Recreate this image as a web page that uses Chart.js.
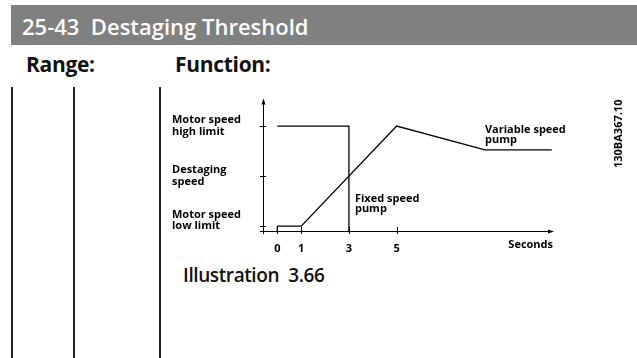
<!DOCTYPE html>
<html>
<head>
<meta charset="utf-8">
<title>25-43 Destaging Threshold</title>
<script src="https://cdn.jsdelivr.net/npm/chart.js@4.4.0/dist/chart.umd.min.js"></script>
<style>
    body { margin: 0; width: 637px; height: 358px; background: #fff; position: relative; overflow: hidden; font-family: 'Open Sans', sans-serif; }
    .bar { position: absolute; left: 11px; top: 5px; width: 626px; height: 40px; background: #808080; }
    .title { position: absolute; left: 22px; top: 15px; font-size: 22px; line-height: 22px; font-weight: 600; color: #fff; white-space: pre; }
    .head { position: absolute; top: 54px; font-size: 21px; line-height: 21px; font-weight: 700; color: #111; letter-spacing: -0.3px; }
    .col { position: absolute; top: 87px; bottom: 0; width: 1.5px; background: #222; }
    .caption { position: absolute; left: 183px; top: 266px; font-size: 19px; line-height: 19px; font-weight: 600; color: #111; white-space: pre; letter-spacing: -0.4px; }
    #myChart { position: absolute; left: 160px; top: 85px; }
</style>
</head>
<body>
<div class="bar"></div>
<div class="title">25-43  Destaging Threshold</div>
<div class="head" style="left:26px">Range:</div>
<div class="head" style="left:175px">Function:</div>
<div class="col" style="left:11px"></div>
<div class="col" style="left:73px"></div>
<div class="col" style="left:159px"></div>
<div class="caption">Illustration  3.66</div>
<canvas id="myChart" width="477" height="180"></canvas>

<script>
// Axis ticks
const xTicks = [0, 1, 3, 5];
const yTicks = [4.6, 52.6, 100];
const yTickLabels = [['Motor speed', 'low limit'], ['Destaging', 'speed'], ['Motor speed', 'high limit']];

// Fixed speed pump (seconds / speed)
const fixedSeconds = [0, 3, 3];
const fixedSpeed = [100, 100, 0];

// Variable speed pump (seconds / speed)
const variableSeconds = [0, 0, 1, 5, 8.7, 11.5];
const variableSpeed = [0, 4.6, 4.6, 100, 77.3, 77.3];

const labelFont = { family: "'Open Sans', sans-serif", size: 11, weight: 'bold' };

function toPoints(xs, ys) {
    return xs.map((x, i) => ({ x: x, y: ys[i] }));
}

// Axes with arrows, crossing ticks and the text notes
const sketchPlugin = {
    id: 'sketch',
    afterDraw(chart) {
        const ctx = chart.ctx;
        const area = chart.chartArea;
        const xs = chart.scales.x;
        const ys = chart.scales.y;
        ctx.save();
        ctx.strokeStyle = '#000';
        ctx.fillStyle = '#000';
        ctx.lineWidth = 1;

        // axes
        ctx.beginPath();
        ctx.moveTo(area.left + 0.5, area.top + 2);
        ctx.lineTo(area.left + 0.5, area.bottom + 3);
        ctx.moveTo(area.left - 3, area.bottom + 0.5);
        ctx.lineTo(area.right - 2, area.bottom + 0.5);
        ctx.stroke();

        // arrow heads
        ctx.beginPath();
        ctx.moveTo(area.left + 0.5, area.top - 1);
        ctx.lineTo(area.left - 1.5, area.top + 5);
        ctx.lineTo(area.left + 2.5, area.top + 5);
        ctx.closePath();
        ctx.moveTo(area.right + 1, area.bottom + 0.5);
        ctx.lineTo(area.right - 5, area.bottom - 1.5);
        ctx.lineTo(area.right - 5, area.bottom + 2.5);
        ctx.closePath();
        ctx.fill();

        // ticks across the axes
        ctx.beginPath();
        yTicks.forEach(v => {
            const py = Math.round(ys.getPixelForValue(v)) + 0.5;
            ctx.moveTo(area.left - 3, py);
            ctx.lineTo(area.left + 3, py);
        });
        xTicks.forEach(v => {
            const px = Math.round(xs.getPixelForValue(v)) + 0.5;
            ctx.moveTo(px, area.bottom - 4);
            ctx.lineTo(px, area.bottom + 3);
        });
        ctx.stroke();

        // notes
        ctx.font = "bold 11px 'Open Sans', sans-serif";
        ctx.textAlign = 'left';
        ctx.textBaseline = 'alphabetic';
        const fx = xs.getPixelForValue(3) + 6;
        ctx.fillText('Fixed speed', fx, area.bottom - 29);
        ctx.fillText('pump', fx, area.bottom - 19);
        const vx = xs.getPixelForValue(8.7);
        const vy = ys.getPixelForValue(77.3);
        ctx.fillText('Variable speed', vx, vy - 17);
        ctx.fillText('pump', vx, vy - 7);

        // drawing number
        ctx.font = "bold 11px 'Open Sans', sans-serif";
        ctx.translate(459, 83);
        ctx.rotate(-Math.PI / 2);
        ctx.textBaseline = 'middle';
        ctx.fillText('130BA367.10', 0, 0);
        ctx.restore();
    }
};

const ctx = document.getElementById('myChart').getContext('2d');
const myChart = new Chart(ctx, {
    type: 'line',
    data: {
        datasets: [
            { label: 'Fixed speed pump', data: toPoints(fixedSeconds, fixedSpeed) },
            { label: 'Variable speed pump', data: toPoints(variableSeconds, variableSpeed) }
        ]
    },
    options: {
        responsive: false,
        devicePixelRatio: 1,
        animation: false,
        layout: { padding: { left: 12, top: 11, right: 84, bottom: 0 } },
        elements: {
            line: { borderColor: '#000', borderWidth: 1.3, tension: 0, fill: false },
            point: { radius: 0 }
        },
        datasets: { line: { clip: false } },
        plugins: {
            legend: { display: false },
            tooltip: { enabled: false }
        },
        scales: {
            x: {
                type: 'linear',
                min: -0.6,
                max: 11.55,
                grid: { display: false },
                border: { display: false },
                afterBuildTicks: scale => { scale.ticks = xTicks.map(v => ({ value: v })); },
                afterFit: scale => { scale.height = 34; },
                ticks: { color: '#000', font: labelFont, padding: 3, maxRotation: 0, autoSkip: false },
                title: {
                    display: true,
                    text: 'Seconds',
                    align: 'end',
                    color: '#000',
                    font: labelFont,
                    padding: { top: 0, bottom: 14 }
                }
            },
            y: {
                type: 'linear',
                min: 0,
                max: 125.3,
                grid: { display: false },
                border: { display: false },
                afterBuildTicks: scale => { scale.ticks = yTicks.map(v => ({ value: v })); },
                afterFit: scale => { scale.width = 91; },
                ticks: {
                    color: '#000',
                    font: { family: labelFont.family, size: 11, weight: 'bold', lineHeight: 1.05 },
                    crossAlign: 'far',
                    autoSkip: false,
                    // the low limit label sits a little above its tick
                    callback: (value, i) => i === 0 ? yTickLabels[i].concat(['']) : yTickLabels[i]
                }
            }
        }
    },
    plugins: [sketchPlugin]
});
</script>
</body>
</html>
